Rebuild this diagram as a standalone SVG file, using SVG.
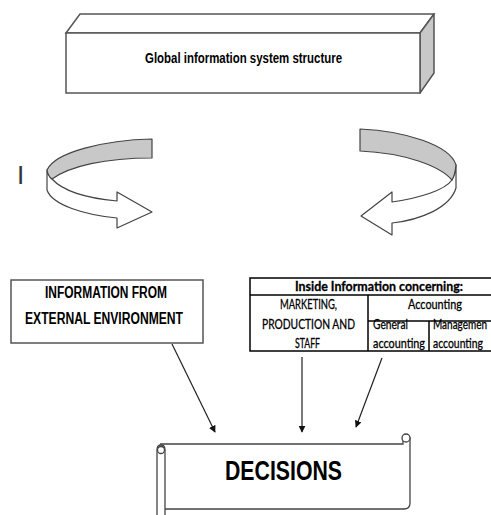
<svg xmlns="http://www.w3.org/2000/svg" width="491" height="515" viewBox="0 0 491 515">
<defs>
<style>
.box{fill:#fff;stroke:#555;stroke-width:1.5}
.side{fill:#c8c8c8;stroke:#555;stroke-width:1.5;stroke-linejoin:round}
.rib{stroke:#444;stroke-width:1.2;stroke-linejoin:round}
.tb{fill:none;stroke:#000;stroke-width:1.5}
.ar{fill:#000;font-family:"Liberation Sans",Arial,sans-serif;font-weight:bold}
.cal{fill:#000;stroke:#000;stroke-width:0.3;font-family:Lato,"Open Sans",sans-serif;font-size:13.5px}
.scr{fill:#fff;stroke:#444;stroke-width:1.3}
.con{stroke:#222;stroke-width:1.2;fill:none}
</style>
<marker id="ah" viewBox="0 0 10 10" refX="9" refY="5" markerWidth="7" markerHeight="7" orient="auto" markerUnits="userSpaceOnUse">
<path d="M0,0 L10,5 L0,10 Z" fill="#111"/>
</marker>
</defs>
<rect width="491" height="515" fill="#fff"/>

<g id="global-structure">
<path class="box" d="M66,33 L80,14 L434,14 L420,33 Z"/>
<path class="side" d="M420,33 L434,14 L434,73 L420,93 Z"/>
<rect class="box" x="66" y="33" width="354" height="60"/>
<text class="ar" x="243.5" y="63" font-size="15" text-anchor="middle" textLength="197" lengthAdjust="spacingAndGlyphs">Global information system structure</text>
</g>

<g id="cursor-mark">
<text x="17" y="184" font-family="Liberation Sans,Arial,sans-serif" font-size="26" fill="#333">I</text>
</g>

<g id="left-curved-arrow">
<path class="rib" fill="#fff" d="M47,170 L47,190 C52,205 85,215 117,218 L117,228 L152,212 L117,192 L117,201 C85,198 62,190 52,179 Q48,176 47,170 Z"/>
<path class="rib" fill="#c8c8c8" d="M152,139 C105,140 55,152 47,170 Q48,176 52,179 C70,166 105,158 152,158 Z"/>
</g>

<g id="right-curved-arrow">
<path class="rib" fill="#fff" d="M456,165 L456,188 C450,208 420,220 392,223 L392,235 L361,216 L392,192 L392,202 C420,198 445,190 452,180 Q455,175 456,165 Z"/>
<path class="rib" fill="#c8c8c8" d="M360,129 C405,131 450,145 456,165 Q455,175 452,180 C440,166 405,153 360,151 Z"/>
</g>

<g id="external-info">
<rect class="box" x="11" y="280" width="192" height="63" stroke="#333"/>
<text class="ar" x="106" y="298" font-size="16" text-anchor="middle" textLength="122" lengthAdjust="spacingAndGlyphs">INFORMATION FROM</text>
<text class="ar" x="104" y="324" font-size="16" text-anchor="middle" textLength="158" lengthAdjust="spacingAndGlyphs">EXTERNAL ENVIRONMENT</text>
</g>

<g id="inside-info">
<rect class="tb" x="250" y="278" width="245" height="73"/>
<line class="tb" x1="250" y1="295" x2="495" y2="295"/>
<line class="tb" x1="368" y1="295" x2="368" y2="351"/>
<line class="tb" x1="368" y1="321" x2="495" y2="321"/>
<line class="tb" x1="429" y1="321" x2="429" y2="351"/>
<text class="cal" x="379" y="291" font-weight="bold" text-anchor="middle" textLength="168" lengthAdjust="spacingAndGlyphs">Inside Information concerning:</text>
<text class="cal" x="308.5" y="309" text-anchor="middle" textLength="57" lengthAdjust="spacingAndGlyphs">MARKETING,</text>
<text class="cal" x="308.5" y="329" text-anchor="middle" textLength="93" lengthAdjust="spacingAndGlyphs">PRODUCTION AND</text>
<text class="cal" x="307.5" y="348" text-anchor="middle" textLength="25" lengthAdjust="spacingAndGlyphs">STAFF</text>
<text class="cal" x="408" y="309" textLength="54" lengthAdjust="spacingAndGlyphs">Accounting</text>
<text class="cal" x="373" y="329" textLength="35" lengthAdjust="spacingAndGlyphs">General</text>
<text class="cal" x="373" y="348" textLength="52" lengthAdjust="spacingAndGlyphs">accounting</text>
<text class="cal" x="433" y="329" textLength="54" lengthAdjust="spacingAndGlyphs">Managemen</text>
<text class="cal" x="433" y="348" textLength="50" lengthAdjust="spacingAndGlyphs">accounting</text>
</g>

<g id="decisions">
<path class="scr" d="M160,444 L403,444 L403,438 L410,438 L410,503 Q410,509 404,509 L165,509"/>
<circle class="scr" cx="406" cy="438" r="4"/>
<path class="scr" d="M157,516 L157,450 Q157,445 161,445 Q165,445 165,450 L165,516"/>
<circle class="scr" cx="161" cy="450" r="3.5"/>
<text class="ar" x="283.5" y="480" font-size="28" text-anchor="middle" textLength="117" lengthAdjust="spacingAndGlyphs">DECISIONS</text>
</g>

<g id="connectors">
<line class="con" x1="172" y1="344" x2="215" y2="432" marker-end="url(#ah)"/>
<line class="con" x1="302" y1="357" x2="302" y2="432" marker-end="url(#ah)"/>
<line class="con" x1="382" y1="358" x2="356" y2="427" marker-end="url(#ah)"/>
</g>
</svg>
